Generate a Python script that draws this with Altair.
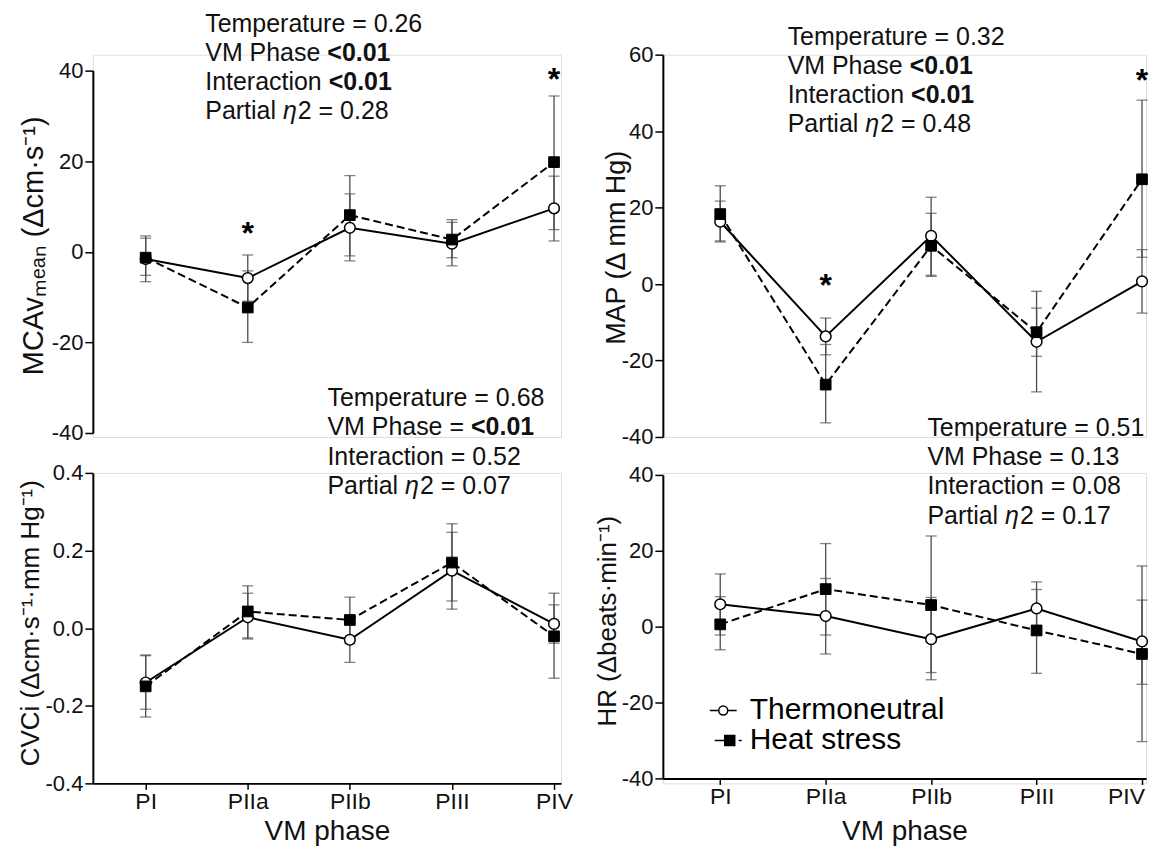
import altair as alt
import pandas as pd

# ---------------- data ----------------
phases = ["PI", "PIIa", "PIIb", "PIII", "PIV"]
series_names = ["Thermoneutral", "Heat stress"]

# MCAv mean (Δcm·s-1)
mcav_tn = [-1.6, -5.8, 5.3, 1.8, 9.6]
mcav_tn_lo = [-6.6, -10.9, -2.0, -3.1, 2.4]
mcav_tn_hi = [3.5, -0.7, 12.8, 6.5, 16.7]
mcav_hs = [-1.3, -12.3, 8.1, 2.7, 19.8]
mcav_hs_lo = [-5.2, -20.0, -0.9, -1.3, 4.9]
mcav_hs_hi = [3.0, -4.2, 16.8, 7.1, 34.4]
mcav_star_phase = ["PIIa", "PIV"]
mcav_star_y = [5.8, 39.6]

# MAP (Δ mm Hg)
map_tn = [16.3, -13.7, 12.6, -15.1, 0.7]
map_tn_lo = [11.0, -18.5, 2.3, -28.2, -7.6]
map_tn_hi = [21.7, -8.9, 22.7, -1.9, 9.0]
map_hs = [18.3, -26.3, 10.0, -12.6, 27.4]
map_hs_lo = [11.3, -36.3, 2.0, -18.9, 7.0]
map_hs_hi = [25.7, -15.8, 18.5, -6.3, 48.1]
map_star_phase = ["PIIa", "PIV"]
map_star_y = [1.6, 55.2]

# CVCi
cvci_tn = [-0.14, 0.028, -0.03, 0.148, 0.011]
cvci_tn_lo = [-0.209, -0.028, -0.088, 0.049, -0.039]
cvci_tn_hi = [-0.069, 0.09, 0.03, 0.247, 0.06]
cvci_hs = [-0.15, 0.043, 0.021, 0.169, -0.021]
cvci_hs_lo = [-0.229, -0.025, -0.04, 0.07, -0.129]
cvci_hs_hi = [-0.071, 0.109, 0.08, 0.269, 0.09]

# HR
hr_tn = [5.9, 2.8, -3.3, 4.8, -3.9]
hr_tn_lo = [-2.2, -7.2, -14.0, -2.2, -15.2]
hr_tn_hi = [13.9, 12.7, 7.7, 11.8, 7.0]
hr_hs = [0.6, 9.9, 5.7, -1.0, -7.2]
hr_hs_lo = [-6.1, -2.2, -12.1, -12.3, -30.3]
hr_hs_hi = [7.9, 21.9, 23.9, 9.8, 16.0]

# statistics text (normal / bold / italic fragments)
mcav_stats = [[("Temperature = 0.26", "n")],
              [("VM Phase ", "n"), ("<0.01", "b")],
              [("Interaction ", "n"), ("<0.01", "b")],
              [("Partial ", "n"), ("η", "i"), ("2 = 0.28", "n")]]
map_stats = [[("Temperature = 0.32", "n")],
             [("VM Phase ", "n"), ("<0.01", "b")],
             [("Interaction ", "n"), ("<0.01", "b")],
             [("Partial ", "n"), ("η", "i"), ("2 = 0.48", "n")]]
cvci_stats = [[("Temperature = 0.68", "n")],
              [("VM Phase = ", "n"), ("<0.01", "b")],
              [("Interaction = 0.52", "n")],
              [("Partial ", "n"), ("η", "i"), ("2 = 0.07", "n")]]
hr_stats = [[("Temperature = 0.51", "n")],
            [("VM Phase = 0.13", "n")],
            [("Interaction = 0.08", "n")],
            [("Partial ", "n"), ("η", "i"), ("2 = 0.17", "n")]]

# ---------------- style ----------------
FONT = "Liberation Sans"
TXT = "#111111"
EB = "#4d4d4d"
ANN_FS = 25

ARIAL = {" ": 278, "=": 584, "<": 584, ".": 278, "T": 611, "e": 556, "m": 833,
         "p": 556, "r": 333, "a": 556, "t": 278, "u": 556, "V": 667, "M": 833,
         "P": 667, "h": 556, "s": 500, "I": 278, "n": 556, "c": 500, "i": 222,
         "o": 556, "l": 222}


def tw(s, fs):
    return sum(ARIAL.get(ch, 556) for ch in s) * fs / 1000.0


ONE = pd.DataFrame({"k": [0]})


def to_df(tn, tn_lo, tn_hi, hs, hs_lo, hs_hi):
    rows = []
    for s, m, lo, hi in [(series_names[0], tn, tn_lo, tn_hi),
                         (series_names[1], hs, hs_lo, hs_hi)]:
        for p, a, b, c in zip(phases, m, lo, hi):
            rows.append({"phase": p, "series": s, "mean": a, "lo": b, "hi": c})
    return pd.DataFrame(rows)


def annotations(lines, x0, ys):
    layers = []
    for frags, y in zip(lines, ys):
        x = x0
        for text, st in frags:
            kw = {}
            if st == "b":
                kw["fontWeight"] = "bold"
            if st == "i":
                kw["fontStyle"] = "italic"
            layers.append(
                alt.Chart(ONE).mark_text(align="left", baseline="middle", fontSize=ANN_FS,
                                         font=FONT, color=TXT, **kw)
                .encode(x=alt.value(x), y=alt.value(y), text=alt.value(text))
            )
            x += tw(text, ANN_FS) + (1 if st == "i" else 0)
    return layers


def y_axis(ticks, dec, title, tfs, tx, ty):
    f = "'.%df'" % dec if dec else "'d'"
    return alt.Axis(values=ticks,
                    labelExpr=f"datum.value < 0 ? '-' + format(-datum.value, {f}) : format(datum.value, {f})",
                    title=title, titleFont=FONT, titleFontSize=tfs, titleFontWeight="normal",
                    titleColor=TXT, titleAngle=270, titleX=tx, titleY=ty, titleAlign="center",
                    titleBaseline="middle",
                    labelFont=FONT, labelFontSize=22, labelColor=TXT, labelPadding=2,
                    tickSize=8, tickWidth=1.5, tickColor="black",
                    domainColor="black", domainWidth=2, grid=False,
                    labelOverlap=False, labelFlush=False)


def x_axis(title_y, offset=0, last_shift=0):
    return alt.Axis(title="VM phase", titleFont=FONT, titleFontSize=28, titleFontWeight="normal",
                    titleColor=TXT, titleY=title_y, titleBaseline="alphabetic",
                    labelFont=FONT, labelFontSize=23, labelColor=TXT, labelAngle=0, labelPadding=1,
                    labelOffset={"condition": {"test": "datum.value === 'PIV'", "value": last_shift},
                                 "value": 0},
                    tickSize=6, tickWidth=1.5, tickColor="black", offset=offset,
                    domainColor="black", domainWidth=2, grid=False)


# legend glyphs: line + open circle, dashed line + filled (hatched) square
TN_SYM = "M-1.04,0H-0.32M0.4,0H1.12M-0.32,0A0.36,0.36,0,1,1,0.4,0A0.36,0.36,0,1,1,-0.32,0Z"
_hatch = "".join("M0.16,%.2fH0.96" % (-0.4 + 0.08 * k) for k in range(11))
HS_SYM = "M-0.64,0H0.16M0.16,-0.4H0.96V0.4H0.16Z" + _hatch + "M1.28,0H1.52"

legend_main = alt.Legend(
    title=None, orient="none", legendX=616, legendY=642, direction="vertical",
    labelFont=FONT, labelFontSize=30, labelColor="black", labelOffset=12, labelLimit=400,
    rowPadding=-6, padding=0, symbolSize=625, symbolOpacity=1,
    symbolStrokeColor="black", symbolStrokeWidth=1.5, symbolFillColor="transparent")


def panel(df, width, height, xpad, xalign, xax, ydom, yrange, yax,
          star_phase, star_y, stats, ann_x, ann_ys, with_legend=False):
    X = alt.X("phase:N", sort=phases, axis=xax,
              scale=alt.Scale(type="point", domain=phases, padding=xpad, align=xalign))
    ys = alt.Scale(domain=ydom, range=yrange, nice=False, zero=False)

    def Y(f):
        return alt.Y(f, scale=ys, axis=yax)

    base = alt.Chart(df)
    tn = base.transform_filter(alt.datum.series == series_names[0])
    hs = base.transform_filter(alt.datum.series == series_names[1])
    rules = base.mark_rule(color=EB, strokeWidth=1.3).encode(x=X, y=Y("lo:Q"), y2="hi:Q")
    cap_lo = base.mark_tick(color=EB, thickness=1.3, size=11).encode(x=X, y=Y("lo:Q"))
    cap_hi = base.mark_tick(color=EB, thickness=1.3, size=11).encode(x=X, y=Y("hi:Q"))
    line_tn = tn.mark_line(color="black", strokeWidth=2).encode(x=X, y=Y("mean:Q"))
    line_hs = hs.mark_line(color="black", strokeWidth=2, strokeDash=[8, 4]).encode(x=X, y=Y("mean:Q"))
    pts_tn = tn.mark_point(shape="circle", filled=True, fill="white", stroke="black",
                           strokeWidth=1.5, size=115, opacity=1).encode(x=X, y=Y("mean:Q"))
    pts_hs = hs.mark_point(shape="square", filled=True, fill="black", stroke="black",
                           strokeWidth=1, size=115, opacity=1).encode(x=X, y=Y("mean:Q"))
    layers = [rules, cap_lo, cap_hi, line_tn, line_hs, pts_tn, pts_hs]
    if star_phase:
        layers.append(
            alt.Chart(pd.DataFrame({"phase": star_phase, "y": star_y})).mark_text(
                text="*", fontSize=32, fontWeight="bold", font=FONT, color="black",
                baseline="alphabetic", dy=18).encode(x=X, y=Y("y:Q")))
    if with_legend:
        layers.append(
            base.mark_point(filled=False, size=0, color="black", strokeWidth=1.5).encode(
                x=X, y=Y("mean:Q"),
                shape=alt.Shape("series:N", legend=legend_main,
                                scale=alt.Scale(domain=series_names, range=[TN_SYM, HS_SYM]))))
    layers += annotations(stats, ann_x, ann_ys)
    return alt.layer(*layers).properties(width=width, height=height)


W_L, W_R = 469, 484
H_T, H_B = 383, 311

tl = panel(to_df(mcav_tn, mcav_tn_lo, mcav_tn_hi, mcav_hs, mcav_hs_lo, mcav_hs_hi),
           W_L, H_T, 0.293, 0.883, None, [-40, 40], [379, 16],
           y_axis([-40, -20, 0, 20, 40], 0, "MCAvₘₑₐₙ (Δcm·s⁻¹)", 29, -59, 191),
           mcav_star_phase, mcav_star_y, mcav_stats, 112.6, [-31, -2, 27, 56])

tr = panel(to_df(map_tn, map_tn_lo, map_tn_hi, map_hs, map_hs_lo, map_hs_hi),
           W_R, H_T, 0.291, 0.935, None, [-40, 60], [383, 0],
           y_axis([-40, -20, 0, 20, 40, 60], 0, "MAP (Δ mm Hg)", 27, -46, 193),
           map_star_phase, map_star_y, map_stats, 125, [-18, 11, 40, 69])

bl = panel(to_df(cvci_tn, cvci_tn_lo, cvci_tn_hi, cvci_hs, cvci_hs_lo, cvci_hs_hi),
           W_L, H_B, 0.293, 0.883, x_axis(56), [-0.4, 0.4], [311, 0],
           y_axis([-0.4, -0.2, 0, 0.2, 0.4], 1, "CVCi (Δcm·s⁻¹·mm Hg⁻¹)", 26, -62, 150),
           [], [], cvci_stats, 235, [-75, -46, -16, 13])

br = panel(to_df(hr_tn, hr_tn_lo, hr_tn_hi, hr_hs, hr_hs_lo, hr_hs_hi),
           W_R, H_B, 0.291, 0.935, x_axis(61, offset=-5, last_shift=-16), [-40, 40], [306, 2],
           y_axis([-40, -20, 0, 20, 40], 0, "HR (Δbeats·min⁻¹)", 26, -55, 148),
           [], [], hr_stats, 265, [-45, -16, 13, 43], with_legend=True)

chart = alt.concat(tl, tr, bl, br, columns=2, spacing={"row": 36, "column": 102},
                   bounds="flush", align="each").properties(
    padding={"left": 9, "top": 2, "right": 0, "bottom": 0}
).configure_view(stroke=None).configure(font=FONT)

chart.save("out.html", embed_options={"renderer": "svg", "actions": False})
